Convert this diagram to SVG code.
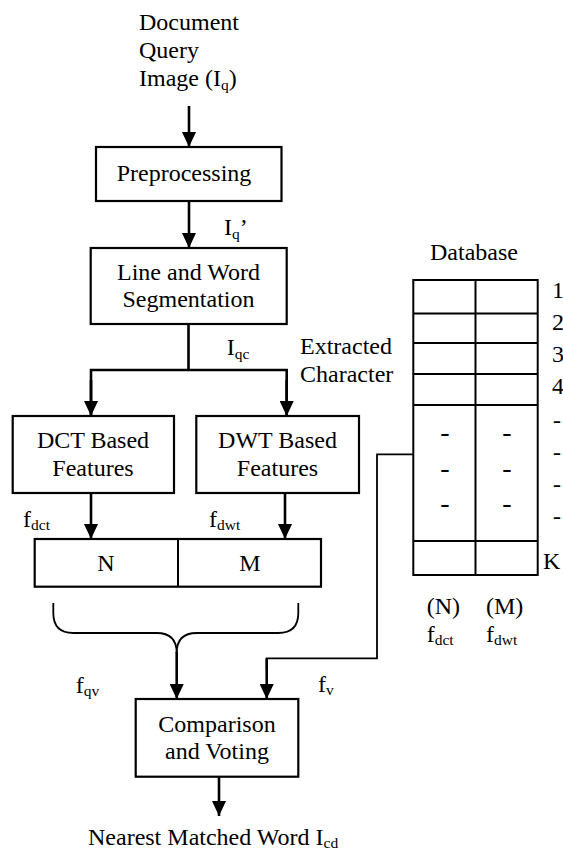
<svg xmlns="http://www.w3.org/2000/svg" width="563" height="852" viewBox="0 0 563 852">
<style>
text{font-family:"Liberation Serif","Times New Roman",serif;font-size:24px;fill:#000}
.c{text-anchor:middle}
.s{font-size:15.5px}
.box{fill:#fff;stroke:#000;stroke-width:2.2}
.ar{fill:none;stroke:#000;stroke-width:2.6;marker-end:url(#ah)}
.ln{fill:none;stroke:#000;stroke-width:2.6}
.th{fill:none;stroke:#000;stroke-width:1.8}
.tb{fill:none;stroke:#000;stroke-width:2}
</style>
<defs>
<marker id="ah" markerUnits="userSpaceOnUse" viewBox="0 0 15 14" markerWidth="15" markerHeight="14" refX="15" refY="7" orient="auto">
<path d="M0,0 L15,7 L0,14 z" fill="#000"/>
</marker>
</defs>

<g id="connectors">
<line class="ar" x1="189" y1="106" x2="189" y2="147"/>
<line class="ar" x1="189" y1="201" x2="189" y2="248"/>
<line class="ln" x1="188.5" y1="324" x2="188.5" y2="370"/>
<polyline class="ln" points="91,416 91,370 286.7,370 286.7,416"/>
<line class="ar" x1="91" y1="380" x2="91" y2="416"/>
<line class="ar" x1="286.7" y1="380" x2="286.7" y2="416"/>
<line class="ar" x1="91" y1="493" x2="91" y2="539"/>
<line class="ar" x1="285" y1="493" x2="285" y2="539"/>
<path class="th" d="M53.3,603 L53.3,613 Q53.3,633 73.3,633 L156.7,633 Q176.7,633 176.7,653"/>
<path class="th" d="M298.3,603 L298.3,613 Q298.3,633 278.3,633 L196.7,633 Q176.7,633 176.7,653"/>
<line class="ar" x1="176.7" y1="652" x2="176.7" y2="699"/>
<polyline class="th" points="413.3,454.3 377,454.3 377,658.3 266.7,658.3 266.7,670"/>
<line class="ar" x1="266.7" y1="658.3" x2="266.7" y2="699"/>
<line class="ar" x1="219" y1="777" x2="219" y2="816"/>
</g>

<g id="input">
<text x="139" y="30">Document</text>
<text x="139" y="57.5">Query</text>
<text x="139" y="85.5">Image (I<tspan class="s" dy="4">q</tspan><tspan dy="-4">)</tspan></text>
</g>

<g id="preprocessing">
<rect class="box" x="96" y="147" width="185.5" height="54"/>
<text class="c" x="184" y="181">Preprocessing</text>
</g>
<text x="224" y="235">I<tspan class="s" dy="4">q</tspan><tspan dy="-4">’</tspan></text>

<g id="segmentation">
<rect class="box" x="90.7" y="248" width="196" height="76"/>
<text class="c" x="188.5" y="279.5">Line and Word</text>
<text class="c" x="188.5" y="306.5">Segmentation</text>
</g>
<text x="226.7" y="355">I<tspan class="s" dy="4">qc</tspan></text>
<text x="300" y="354">Extracted</text>
<text x="300" y="381.5">Character</text>

<g id="dct">
<rect class="box" x="12.7" y="416" width="161.3" height="77"/>
<text class="c" x="93" y="447.5">DCT Based</text>
<text class="c" x="93" y="475.5">Features</text>
</g>
<g id="dwt">
<rect class="box" x="196.3" y="416" width="162.7" height="77"/>
<text class="c" x="277.5" y="447.5">DWT Based</text>
<text class="c" x="277.5" y="475.5">Features</text>
</g>
<text x="23" y="527">f<tspan class="s" dy="3">dct</tspan></text>
<text x="209" y="527">f<tspan class="s" dy="3">dwt</tspan></text>

<g id="feature-vector">
<rect class="box" x="34.7" y="539" width="286.3" height="47.7"/>
<line class="tb" x1="178" y1="539" x2="178" y2="586.7"/>
<text class="c" x="106" y="570.5">N</text>
<text class="c" x="250" y="570.5">M</text>
</g>
<text x="75.7" y="693">f<tspan class="s" dy="3">qv</tspan></text>
<text x="318" y="691.5">f<tspan class="s" dy="3">v</tspan></text>

<g id="comparison">
<rect class="box" x="135.7" y="699" width="162.6" height="77.7"/>
<text class="c" x="217" y="731.5">Comparison</text>
<text class="c" x="217" y="759">and Voting</text>
</g>
<text x="88" y="845">Nearest Matched Word I<tspan class="s" dy="3">cd</tspan></text>

<g id="database">
<text x="430" y="260">Database</text>
<rect class="tb" x="413.3" y="280" width="124.4" height="295"/>
<line class="tb" x1="475.5" y1="280" x2="475.5" y2="575"/>
<line class="tb" x1="413.3" y1="313.5" x2="537.7" y2="313.5"/>
<line class="tb" x1="413.3" y1="343" x2="537.7" y2="343"/>
<line class="tb" x1="413.3" y1="374" x2="537.7" y2="374"/>
<line class="tb" x1="413.3" y1="405" x2="537.7" y2="405"/>
<line class="tb" x1="413.3" y1="541" x2="537.7" y2="541"/>
<text class="c" x="445" y="441" style="font-size:28px">-</text>
<text class="c" x="507" y="441" style="font-size:28px">-</text>
<text class="c" x="445" y="476.5" style="font-size:28px">-</text>
<text class="c" x="507" y="476.5" style="font-size:28px">-</text>
<text class="c" x="445" y="511.5" style="font-size:28px">-</text>
<text class="c" x="507" y="511.5" style="font-size:28px">-</text>
<text x="552" y="298">1</text>
<text x="552" y="329.5">2</text>
<text x="552" y="361.5">3</text>
<text x="552" y="394">4</text>
<text x="553" y="428">-</text>
<text x="553" y="460">-</text>
<text x="553" y="492">-</text>
<text x="553" y="524">-</text>
<text x="543" y="568.5">K</text>
<text x="426.7" y="613.5">(N)</text>
<text x="486" y="613.5">(M)</text>
<text x="426.7" y="641.5">f<tspan class="s" dy="3">dct</tspan></text>
<text x="486" y="641.5">f<tspan class="s" dy="3">dwt</tspan></text>
</g>
</svg>
